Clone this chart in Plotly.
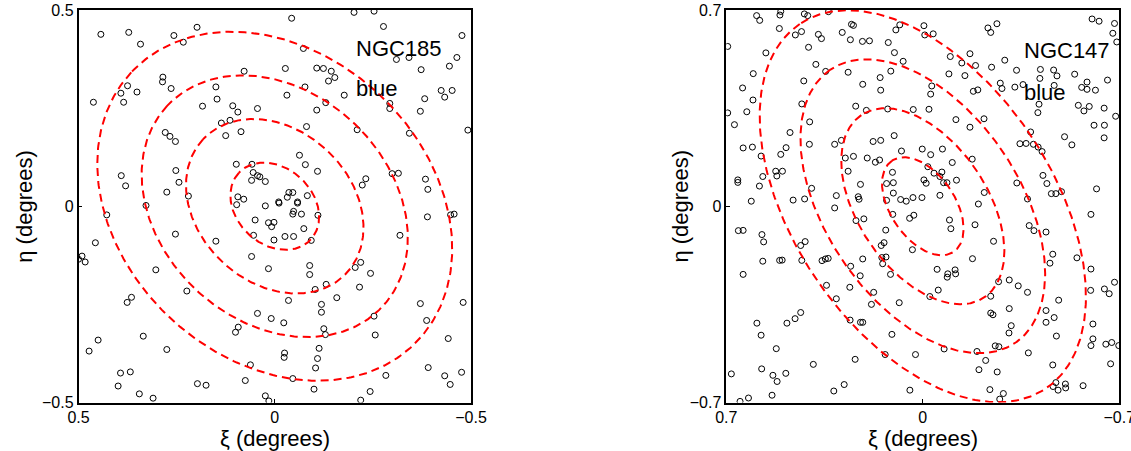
import numpy as np
import plotly.graph_objects as go

# ---------------- data ----------------
ngc185_points = [
 (0.443,0.438),(0.372,0.443),(0.342,0.413),(0.257,0.435),(0.233,0.418),(0.198,0.456),(0.078,0.344),(0.285,0.329),
 (0.286,0.317),(0.264,0.300),(0.375,0.307),(0.392,0.288),(0.385,0.265),(0.351,0.291),(0.462,0.265),(0.150,0.304),
 (0.147,0.273),(0.184,0.255),(0.107,0.256),(0.094,0.240),(0.044,0.249),(0.136,0.212),(0.114,0.219),(0.125,0.180),
 (0.086,0.190),(0.279,0.188),(0.267,0.178),(0.253,0.165),(0.098,0.107),(0.058,0.107),(0.055,0.086),(0.044,0.078),
 (0.038,0.075),(0.059,0.066),(0.024,0.063),(0.391,0.078),(0.380,0.052),(0.252,0.091),(0.244,0.061),(0.275,0.036),
 (0.220,0.026),(0.094,0.024),(0.079,0.018),
 (-0.043,0.479),(-0.202,0.494),(-0.253,0.497),(-0.277,0.458),(-0.477,0.435),(-0.073,0.402),(-0.310,0.374),(-0.342,0.379),
 (-0.464,0.379),(-0.445,0.357),(-0.373,0.348),(-0.027,0.351),(-0.107,0.352),(-0.124,0.351),(-0.144,0.344),(-0.153,0.328),
 (-0.137,0.319),(-0.077,0.304),(-0.031,0.283),(-0.177,0.283),(-0.130,0.264),(-0.107,0.245),(-0.293,0.262),(-0.293,0.249),
 (-0.382,0.274),(-0.424,0.295),(-0.452,0.295),(-0.433,0.278),(-0.371,0.242),(-0.492,0.194),(-0.081,0.203),(-0.210,0.195),
 (-0.343,0.186),(-0.063,0.130),(-0.078,0.106),(-0.109,0.089),(-0.232,0.070),(-0.223,0.054),(-0.299,0.083),(-0.315,0.084),
 (-0.384,0.069),(-0.390,0.043),(-0.036,0.035),(-0.046,0.035),(-0.032,0.023),(-0.083,0.027),(-0.058,0.011),(-0.010,0.011),
 (0.328,0.002),(0.428,-0.022),(0.024,0.001),(0.097,0.004),(0.050,-0.035),(0.016,-0.042),(0.008,-0.052),(0.054,-0.074),
 (0.002,-0.086),(0.253,-0.071),(0.150,-0.089),(0.457,-0.093),(0.491,-0.127),(0.500,-0.135),(0.483,-0.142),(0.059,-0.128),
 (0.016,-0.159),(0.303,-0.162),(0.224,-0.216),(0.365,-0.232),(0.376,-0.245),(0.044,-0.273),(0.009,-0.286),(0.093,-0.308),
 (0.100,-0.321),(0.450,-0.341),(0.473,-0.369),(0.335,-0.331),(0.275,-0.365),(0.062,-0.404),(0.393,-0.425),(0.368,-0.422),
 (0.075,-0.444),(0.399,-0.458),(0.197,-0.452),(0.175,-0.456),(0.345,-0.478),(0.310,-0.489),(0.024,-0.483),(0.015,-0.496),
 (-0.011,0.008),(-0.058,0.008),(-0.048,-0.013),(-0.046,-0.020),(-0.068,-0.020),(-0.110,-0.023),(0.002,-0.041),
 (-0.074,-0.057),(-0.026,-0.077),(-0.048,-0.077),(-0.093,-0.087),(-0.389,-0.027),(-0.448,-0.022),(-0.457,-0.020),
 (-0.319,-0.074),(-0.089,-0.151),(-0.089,-0.174),(-0.219,-0.143),(-0.205,-0.156),(-0.244,-0.171),(-0.131,-0.199),
 (-0.103,-0.212),(-0.216,-0.206),(-0.158,-0.233),(-0.035,-0.240),(-0.119,-0.250),(-0.119,-0.270),(-0.023,-0.297),
 (-0.253,-0.280),(-0.371,-0.248),(-0.480,-0.245),(-0.387,-0.291),(-0.125,-0.312),(-0.129,-0.327),(-0.256,-0.328),
 (-0.442,-0.337),(-0.113,-0.362),(-0.025,-0.374),(-0.024,-0.385),(-0.109,-0.388),(-0.104,-0.412),(-0.046,-0.439),
 (-0.283,-0.431),(-0.391,-0.411),(-0.433,-0.432),(-0.476,-0.423),(-0.447,-0.454),(-0.100,-0.466),(-0.243,-0.472),
 (-0.219,-0.494),
]

ngc147_points = [
 (0.592,0.680),(0.581,0.663),(0.506,0.695),(0.509,0.682),(0.422,0.686),(0.410,0.680),(0.336,0.694),(0.511,0.634),
 (0.454,0.611),(0.432,0.623),(0.372,0.613),(0.361,0.598),(0.287,0.620),(0.254,0.649),(0.247,0.645),(0.258,0.594),
 (0.215,0.588),(0.190,0.590),(0.082,0.647),(0.096,0.629),(0.123,0.584),(-0.004,0.644),(0.695,0.570),(0.559,0.547),
 (0.407,0.567),(0.101,0.548),(0.070,0.517),(0.381,0.506),(0.346,0.481),(0.604,0.473),(0.266,0.478),(0.114,0.482),
 (0.152,0.459),(0.424,0.447),(0.214,0.435),(0.642,0.422),(0.150,0.414),(0.605,0.379),(0.431,0.365),(0.627,0.337),
 (0.695,0.333),(0.239,0.357),(0.201,0.342),(0.125,0.347),(0.034,0.345),(0.671,0.291),(0.403,0.301),(0.473,0.263),
 (0.640,0.208),(0.607,0.211),(0.487,0.209),(0.506,0.185),(0.576,0.179),(0.404,0.221),(0.314,0.221),(0.290,0.235),
 (0.177,0.231),(0.150,0.235),(0.102,0.252),(0.002,0.204),(0.076,0.197),(0.276,0.172),(0.247,0.178),(0.198,0.172),
 (0.169,0.157),(0.154,0.165),(0.266,0.125),(0.108,0.121),(0.524,0.125),(0.500,0.125),(0.520,0.108),(0.570,0.106),
 (0.659,0.094),(0.659,0.085),(0.582,0.072),(0.396,0.064),(0.222,0.078),(0.129,0.081),(0.105,0.084),(-0.004,0.094),
 (0.611,0.018),(0.462,0.022),(0.421,0.026),(0.308,0.038),(0.230,0.034),(0.227,0.025),(0.129,0.021),(0.105,0.047),
 (0.079,0.024),(0.059,0.018),(0.035,0.031),(0.003,0.031),
 (-0.007,0.611),(-0.037,0.615),(-0.232,0.636),(-0.264,0.651),(-0.242,0.620),(-0.603,0.668),(-0.628,0.660),(-0.683,0.652),
 (-0.677,0.617),(-0.691,0.586),(-0.098,0.534),(-0.168,0.544),(-0.139,0.511),(-0.188,0.502),(-0.292,0.521),(-0.245,0.496),
 (-0.093,0.472),(-0.150,0.466),(-0.334,0.485),(-0.419,0.488),(-0.466,0.486),(-0.417,0.456),(-0.478,0.465),(-0.541,0.471),
 (-0.658,0.450),(-0.585,0.443),(-0.566,0.424),(-0.585,0.417),(-0.615,0.414),(-0.032,0.429),(-0.028,0.400),(-0.276,0.439),
 (-0.282,0.420),(-0.328,0.425),(-0.357,0.434),(-0.180,0.410),(-0.196,0.415),(-0.468,0.431),(-0.414,0.364),(-0.410,0.334),
 (-0.022,0.346),(-0.118,0.309),(-0.218,0.312),(-0.168,0.282),(-0.554,0.360),(-0.574,0.340),(-0.593,0.356),(-0.646,0.350),
 (-0.687,0.321),(-0.610,0.289),(-0.647,0.289),(-0.646,0.244),(-0.505,0.248),(-0.531,0.219),(-0.384,0.265),(-0.346,0.223),
 (-0.368,0.224),(-0.394,0.221),(-0.411,0.211),(-0.425,0.195),(-0.028,0.184),(-0.070,0.204),(-0.176,0.168),(-0.105,0.156),
 (-0.018,0.141),(-0.040,0.118),(-0.068,0.122),(-0.012,0.082),(-0.061,0.106),(-0.074,0.084),(-0.086,0.084),(-0.120,0.093),
 (-0.428,0.110),(-0.442,0.081),(-0.335,0.083),(-0.219,0.049),(-0.061,0.039),(-0.198,0.008),(-0.373,0.026),(-0.458,0.045),
 (-0.474,0.045),(-0.494,0.052),(-0.619,0.062),
 (0.314,-0.006),(0.238,-0.051),(0.210,-0.045),(0.107,-0.029),(0.047,-0.043),(0.032,-0.032),(0.657,-0.087),(0.640,-0.086),
 (0.573,-0.101),(0.567,-0.127),(0.435,-0.140),(0.419,-0.126),(0.570,-0.196),(0.510,-0.193),(0.501,-0.192),(0.431,-0.193),
 (0.359,-0.194),(0.347,-0.188),(0.337,-0.186),(0.640,-0.243),(0.257,-0.214),(0.214,-0.188),(0.132,-0.085),(0.148,-0.140),
 (0.138,-0.130),(0.146,-0.183),(0.131,-0.181),(0.143,-0.205),(0.115,-0.243),(0.037,-0.155),(0.223,-0.248),(0.343,-0.282),
 (0.260,-0.289),(0.175,-0.307),(0.308,-0.330),(0.183,-0.350),(0.084,-0.344),(0.435,-0.379),(0.455,-0.401),(0.484,-0.417),
 (0.591,-0.417),(0.576,-0.460),(0.259,-0.406),(0.222,-0.414),(0.214,-0.414),(0.110,-0.457),(0.522,-0.508),(0.390,-0.564),
 (0.241,-0.546),(0.134,-0.529),(0.026,-0.529),(0.682,-0.598),(0.574,-0.580),(0.534,-0.603),(0.488,-0.596),(0.519,-0.625),
 (0.280,-0.636),(0.317,-0.659),(0.537,-0.674),(0.651,-0.696),(0.621,-0.684),(0.046,-0.656),
 (-0.095,-0.049),(-0.100,-0.080),(-0.186,-0.066),(-0.599,-0.029),(-0.379,-0.069),(-0.396,-0.087),(-0.439,-0.092),
 (-0.252,-0.125),(-0.463,-0.171),(-0.453,-0.203),(-0.549,-0.184),(-0.177,-0.187),(-0.051,-0.225),(-0.089,-0.241),
 (-0.115,-0.227),(-0.117,-0.241),(-0.087,-0.253),(-0.599,-0.224),(-0.270,-0.269),(-0.308,-0.263),(-0.340,-0.284),
 (-0.373,-0.307),(-0.055,-0.299),(-0.025,-0.322),(-0.242,-0.321),(-0.484,-0.335),(-0.598,-0.300),(-0.647,-0.295),
 (-0.664,-0.312),(-0.683,-0.271),(-0.308,-0.365),(-0.242,-0.381),(-0.250,-0.387),(-0.439,-0.372),(-0.468,-0.397),
 (-0.439,-0.414),(-0.315,-0.426),(-0.307,-0.452),(-0.476,-0.463),(-0.606,-0.420),(-0.606,-0.473),(-0.599,-0.497),
 (-0.652,-0.492),(-0.673,-0.486),(-0.698,-0.497),(-0.076,-0.509),(-0.193,-0.518),(-0.258,-0.498),(-0.271,-0.501),
 (-0.376,-0.523),(-0.224,-0.550),(-0.200,-0.583),(-0.265,-0.591),(-0.463,-0.566),(-0.669,-0.562),(-0.474,-0.629),
 (-0.464,-0.643),(-0.482,-0.656),(-0.508,-0.634),(-0.509,-0.648),(-0.571,-0.640),(-0.239,-0.654),(-0.287,-0.668),
 (-0.274,-0.688),
]

# ellipse contours: semi-major axes (deg), axis ratio b/a, position angle (deg, N through E)
ngc185_semimajor = [0.125, 0.25, 0.375, 0.5]
ngc185_axis_ratio = 0.78
ngc185_pa = 47.0
ngc147_semimajor = [0.196, 0.392, 0.588, 0.784]
ngc147_axis_ratio = 0.587
ngc147_pa = 34.0

panel_names = ["NGC185", "NGC147"]
panel_band = ["blue", "blue"]
panel_limits = [0.5, 0.7]

# ---------------- figure ----------------
FONT = "Liberation Sans, Arial, Helvetica, sans-serif"
fig = go.Figure()


def ellipse(a, q, pa_deg, n=400):
    t = np.linspace(0, 2 * np.pi, n)
    pa = np.radians(pa_deg)
    b = a * q
    xi = a * np.cos(t) * np.sin(pa) + b * np.sin(t) * np.cos(pa)
    eta = a * np.cos(t) * np.cos(pa) - b * np.sin(t) * np.sin(pa)
    return xi, eta


panels = [
    (ngc185_points, ngc185_semimajor, ngc185_axis_ratio, ngc185_pa, "x", "y"),
    (ngc147_points, ngc147_semimajor, ngc147_axis_ratio, ngc147_pa, "x2", "y2"),
]

for pts, semis, q, pa, xa, ya in panels:
    xs = [p[0] for p in pts]
    ys = [p[1] for p in pts]
    fig.add_trace(go.Scatter(
        x=xs, y=ys, mode="markers", xaxis=xa, yaxis=ya,
        marker=dict(symbol="circle-open", size=6, color="black", line=dict(width=1, color="black")),
        showlegend=False, hoverinfo="skip"))
    for a in semis:
        ex, ey = ellipse(a, q, pa)
        fig.add_trace(go.Scatter(
            x=ex, y=ey, mode="lines", xaxis=xa, yaxis=ya,
            line=dict(color="#ff0000", width=2, dash="8px,5px"),
            showlegend=False, hoverinfo="skip"))

ydom = [1 - 402.5 / 451, 1 - 10 / 451]
xdoms = [[78.5 / 1131, 471 / 1131], [726.3 / 1131, 1119.3 / 1131]]

axis_common = dict(
    showgrid=False, zeroline=False, showline=True, linecolor="black", linewidth=1.5,
    mirror=True, ticks="inside", ticklen=4, tickwidth=1, tickcolor="black",
    tickfont=dict(family=FONT, size=16, color="black"), automargin=False,
    ticklabeloverflow="allow",
)

for i, lim in enumerate(panel_limits):
    sx = "" if i == 0 else "2"
    fig.layout["xaxis" + sx] = dict(
        axis_common, domain=xdoms[i], range=[lim, -lim], tickvals=[lim, 0, -lim],
        anchor="y" + sx)
    fig.layout["yaxis" + sx] = dict(
        axis_common, domain=ydom, range=[-lim, lim], tickvals=[-lim, 0, lim],
        anchor="x" + sx)

annotations = []
# panel labels
label_pos = [(-0.202, 0.378, 0.276), (-0.352, 0.522, 0.372)]
for i, (lx, ly1, ly2) in enumerate(label_pos):
    sx = "" if i == 0 else "2"
    annotations.append(dict(x=lx, y=ly1, xref="x" + sx, yref="y" + sx, text=panel_names[i],
                            showarrow=False, xanchor="left", yanchor="bottom",
                            font=dict(family=FONT, size=22, color="black"), yshift=-5))
    annotations.append(dict(x=lx, y=ly2, xref="x" + sx, yref="y" + sx, text=panel_band[i],
                            showarrow=False, xanchor="left", yanchor="bottom",
                            font=dict(family=FONT, size=22, color="black"), yshift=-5))

# axis titles
ytitle_offsets = [54, 46]
for i in range(2):
    cx = (xdoms[i][0] + xdoms[i][1]) / 2
    annotations.append(dict(x=cx, y=0, xref="paper", yref="paper",
                            text="ξ (degrees)", showarrow=False, xanchor="center", yanchor="bottom",
                            yshift=-2, font=dict(family=FONT, size=22, color="black")))
    annotations.append(dict(x=xdoms[i][0] - ytitle_offsets[i] / 1131, y=(ydom[0] + ydom[1]) / 2,
                            xref="paper", yref="paper",
                            text="η (degrees)", showarrow=False, xanchor="center", yanchor="middle",
                            textangle=-90, font=dict(family=FONT, size=22, color="black")))

fig.update_layout(
    width=1131, height=451, margin=dict(l=0, r=0, t=0, b=0),
    paper_bgcolor="white", plot_bgcolor="white", annotations=annotations,
)

fig.write_html("out.html")
